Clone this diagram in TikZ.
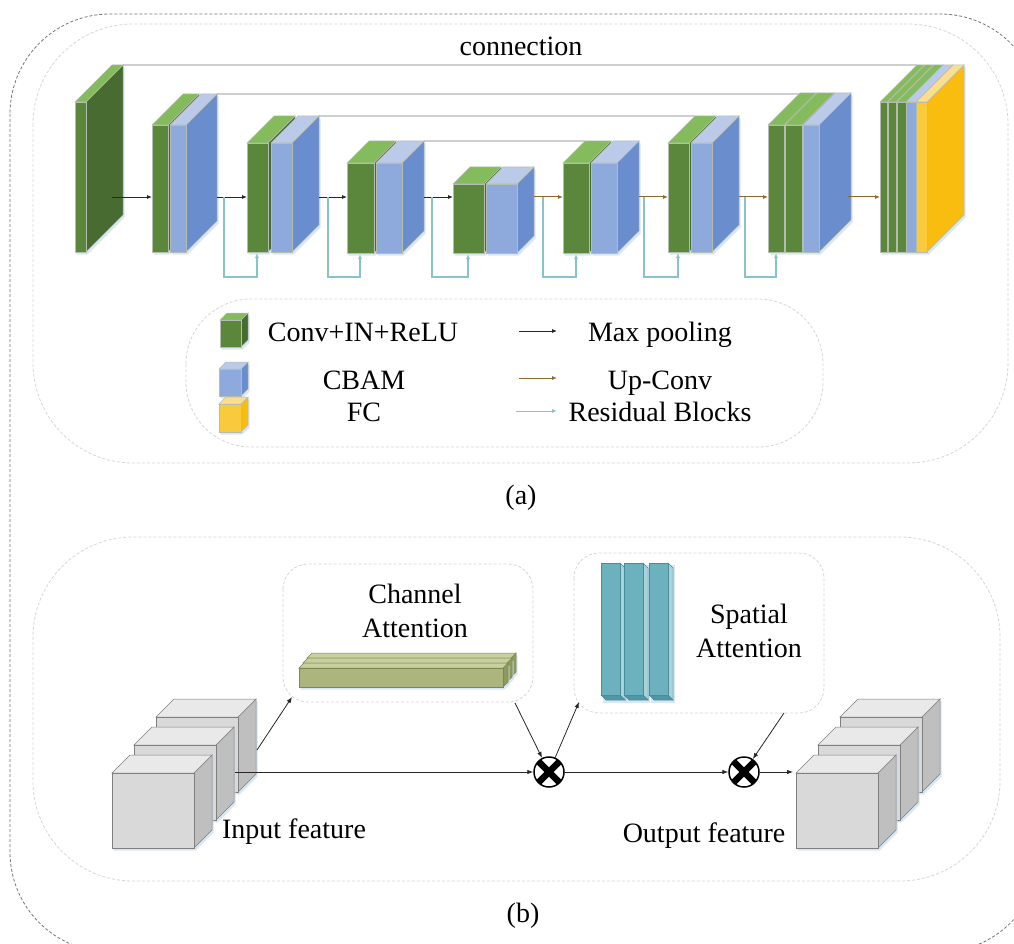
\documentclass[tikz,border=0pt]{standalone}
\usepackage{fontspec}
\setmainfont{Liberation Serif}
\usetikzlibrary{arrows.meta}
\definecolor{gfront}{HTML}{5B873C}
\definecolor{gtop}{HTML}{84BC5D}
\definecolor{gside}{HTML}{476B30}
\definecolor{bfront}{HTML}{8EA9DB}
\definecolor{btop}{HTML}{BACAE8}
\definecolor{bside}{HTML}{6A8DCD}
\definecolor{yfront}{HTML}{F9CA3C}
\definecolor{ytop}{HTML}{FCDD8E}
\definecolor{yside}{HTML}{F8BD0E}
\definecolor{brownarr}{HTML}{8C6A2A}
\definecolor{tealarr}{HTML}{88C3CD}
\definecolor{conngray}{HTML}{CFCFCF}
\definecolor{panelgray}{HTML}{D6D6D6}
\definecolor{outergray}{HTML}{767676}
\definecolor{cfront}{HTML}{D9D9D9}
\definecolor{ctop}{HTML}{E9E9E9}
\definecolor{cside}{HTML}{BFBFBF}
\definecolor{cedge}{HTML}{7F7F7F}
\definecolor{ofront}{HTML}{ADB57E}
\definecolor{otop}{HTML}{C8D0A0}
\definecolor{oside}{HTML}{8E9A5B}
\definecolor{oedge}{HTML}{7D8750}
\definecolor{tfront}{HTML}{6BB2BE}
\definecolor{tside}{HTML}{A9D3DA}
\definecolor{tbot}{HTML}{4F97A4}
\definecolor{tedge}{HTML}{4A8C97}
\definecolor{bedge}{HTML}{B5BDB0}
\definecolor{glow}{HTML}{C9DDF2}

% x1 x2 ytop ybot d front top side edge
\newcommand\myslab[9]{%
  \fill[glow,opacity=0.7] (#1+1.5,#3+2.5) -- (#1+#5+1.5,#3-#5+2.5) -- (#2+#5+1.5,#3-#5+2.5) -- (#2+#5+1.5,#4-#5+2.5) -- (#2+1.5,#4+2.5) -- (#1+1.5,#4+2.5) -- cycle;
  \filldraw[fill=#8,draw=#9,line width=0.5pt] (#2,#3) -- (#2+#5,#3-#5) -- (#2+#5,#4-#5) -- (#2,#4) -- cycle;
  \filldraw[fill=#7,draw=#9,line width=0.5pt] (#1,#3) -- (#1+#5,#3-#5) -- (#2+#5,#3-#5) -- (#2,#3) -- cycle;
  \filldraw[fill=#6,draw=#9,line width=0.5pt] (#1,#3) rectangle (#2,#4);
}
\newcommand\greenlay[5]{\myslab{#1}{#2}{#3}{#4}{#5}{gfront}{gtop}{gside}{bedge}}
\newcommand\bluelay[5]{\myslab{#1}{#2}{#3}{#4}{#5}{bfront}{btop}{bside}{bedge}}
\newcommand\yellowlay[5]{\myslab{#1}{#2}{#3}{#4}{#5}{yfront}{ytop}{yside}{bedge}}
\newcommand\greycube[2]{\myslab{#1}{#1+82}{#2}{#2+75}{18}{cfront}{ctop}{cside}{cedge}}
\newcommand\oliveslab[2]{\myslab{#1}{#1+204}{#2}{#2+19}{5}{ofront}{otop}{oside}{oedge}}
\newcommand\tealbar[1]{%
  \fill[glow,opacity=0.7] (#1+1.5,565) rectangle (#1+26,703);
  \filldraw[fill=tside,draw=tedge,line width=0.5pt] (#1+19,563) -- (#1+24,568) -- (#1+24,700) -- (#1+19,695) -- cycle;
  \filldraw[fill=tbot,draw=tedge,line width=0.5pt] (#1,695) -- (#1+19,695) -- (#1+24,700) -- (#1+5,700) -- cycle;
  \filldraw[fill=tfront,draw=tedge,line width=0.5pt] (#1,563) rectangle (#1+19,695);
}

\tikzset{
  txt/.style={font=\fontsize{28}{33}\selectfont, inner sep=0pt, anchor=base},
  pool/.style={-{Latex[length=5pt,width=4pt]}, line width=0.8pt, black!85},
  upconv/.style={-{Latex[length=5pt,width=4pt]}, line width=1pt, brownarr},
  resid/.style={-{Latex[length=5pt,width=4pt]}, line width=1.3pt, tealarr},
  conn/.style={line width=2pt, conngray},
  arr/.style={-{Latex[length=6pt,width=4.5pt]}, line width=0.8pt, black!85},
  panel/.style={draw=panelgray, line width=0.8pt, dash pattern=on 3pt off 2pt},
  otimes/.style={circle, draw=black, fill=white, line width=1.5pt, minimum size=30pt, inner sep=0pt,
    path picture={\draw[line width=6.5pt] (path picture bounding box.north west) -- (path picture bounding box.south east);
                  \draw[line width=6.5pt] (path picture bounding box.north east) -- (path picture bounding box.south west);}}
}

\begin{document}
\begin{tikzpicture}[x=1pt,y=-1pt]
\clip (0,0) rectangle (1014,944);
\fill[white] (0,0) rectangle (1014,944);

% frames
\draw[outergray, line width=0.8pt, dash pattern=on 3pt off 2pt, rounded corners=100pt] (10,14) rectangle (1040,952);
\draw[panel, rounded corners=100pt] (33,24) rectangle (1008,463);
\draw[panel, rounded corners=100pt] (33,537) rectangle (1000,881);
\draw[panel, rounded corners=65pt] (186,299) rectangle (823,447);

% skip connections
\coordinate (c1a) at (123,65);  \coordinate (c1b) at (917,65);
\coordinate (c2a) at (217,94);  \coordinate (c2b) at (800,94);
\coordinate (c3a) at (319,116); \coordinate (c3b) at (695,116);
\coordinate (c4a) at (424,141); \coordinate (c4b) at (585,141);
\draw[conn] (c1a) -- (c1b);
\draw[conn] (c2a) -- (c2b);
\draw[conn] (c3a) -- (c3b);
\draw[conn] (c4a) -- (c4b);
\node[txt] (conntext) at (521,56) {connection};

% blocks
\greenlay{75}{86}{102}{252}{37}
\greenlay{152}{168}{125}{252}{31}\bluelay{170}{186}{125}{252}{31}
\greenlay{247}{268}{143}{252}{27}\bluelay{271}{292}{143}{252}{27}
\greenlay{347}{374}{163}{253}{22}\bluelay{376}{402}{163}{253}{22}
\greenlay{453}{484}{184}{253}{17}\bluelay{486}{517}{184}{253}{17}
\greenlay{563}{589}{163}{253}{22}\bluelay{591}{617}{163}{253}{22}
\greenlay{668}{689}{143}{252}{27}\bluelay{691}{712}{143}{252}{27}
\greenlay{768}{784}{125}{252}{32}\greenlay{785}{802}{125}{252}{32}\bluelay{803}{819}{125}{252}{32}
\greenlay{880}{887}{102}{252}{37}\greenlay{888}{896}{102}{252}{37}\greenlay{897}{906}{102}{252}{37}\bluelay{906}{916}{102}{252}{37}\yellowlay{916}{927}{102}{252}{37}

% horizontal arrows
\coordinate (h1a) at (112,197); \coordinate (h1b) at (152,197);
\coordinate (h2a) at (217,197); \coordinate (h2b) at (247,197);
\coordinate (h3a) at (319,197); \coordinate (h3b) at (347,197);
\coordinate (h4a) at (424,197); \coordinate (h4b) at (453,197);
\coordinate (h5a) at (534,197); \coordinate (h5b) at (563,197);
\coordinate (h6a) at (639,197); \coordinate (h6b) at (668,197);
\coordinate (h7a) at (739,197); \coordinate (h7b) at (768,197);
\coordinate (h8a) at (848,197); \coordinate (h8b) at (880,197);
\draw[pool] (h1a) -- (h1b);
\draw[pool] (h2a) -- (h2b);
\draw[pool] (h3a) -- (h3b);
\draw[pool] (h4a) -- (h4b);
\draw[upconv] (h5a) -- (h5b);
\draw[upconv] (h6a) -- (h6b);
\draw[upconv] (h7a) -- (h7b);
\draw[upconv] (h8a) -- (h8b);

% residual arrows
\coordinate (r1a) at (224,197); \coordinate (r1b) at (257,253);
\coordinate (r2a) at (328,197); \coordinate (r2b) at (360,254);
\coordinate (r3a) at (432,197); \coordinate (r3b) at (468,254);
\coordinate (r4a) at (543,197); \coordinate (r4b) at (576,254);
\coordinate (r5a) at (644,197); \coordinate (r5b) at (678,253);
\coordinate (r6a) at (745,197); \coordinate (r6b) at (776,253);
\foreach \r in {r1,r2,r3,r4,r5,r6}{\draw[resid] (\r a) -- ++(0,80) -| (\r b);}

% legend
\greenlay{220}{241}{320}{347}{7}
\bluelay{219}{241}{369}{396}{7}
\yellowlay{219}{241}{404}{432}{7}
\node[txt] (lt1) at (363,341) {Conv+IN+ReLU};
\node[txt] (lt2) at (364,389) {CBAM};
\node[txt] (lt3) at (364,421) {FC};
\coordinate (la1) at (519,331); \coordinate (lb1) at (557,331);
\coordinate (la2) at (519,378); \coordinate (lb2) at (557,378);
\coordinate (la3) at (516,411); \coordinate (lb3) at (557,411);
\draw[pool] (la1) -- (lb1);
\draw[upconv] (la2) -- (lb2);
\draw[resid, line width=1pt] (la3) -- (lb3);
\node[txt] (lt4) at (660,341) {Max pooling};
\node[txt] (lt5) at (660,389) {Up-Conv};
\node[txt] (lt6) at (660,421) {Residual Blocks};

\node[txt] (capa) at (521,504) {(a)};

% ---------- panel b ----------
\draw[panel, rounded corners=25pt] (283,564) rectangle (533,702);
\draw[panel, rounded corners=25pt] (574,553) rectangle (824,713);
\oliveslab{307}{658}
\oliveslab{303}{663}
\oliveslab{299}{668}
\node[txt] (cht1) at (415,603) {Channel};
\node[txt] (cht2) at (415,637) {Attention};
\tealbar{601}
\tealbar{624}
\tealbar{649}
\node[txt] (spt1) at (749,623) {Spatial};
\node[txt] (spt2) at (749,657) {Attention};

\greycube{156}{717}
\greycube{134}{745}
\greycube{112}{773}
\greycube{840}{717}
\greycube{818}{745}
\greycube{796}{773}
\node[txt] (inf) at (294,838) {Input feature};
\node[txt] (outf) at (704,842) {Output feature};

\node[otimes] (m1) at (549,772) {};
\node[otimes] (m2) at (744,772) {};

\coordinate (inA) at (257,750); \coordinate (caIn) at (292,697);
\coordinate (inB) at (235,772);
\coordinate (caOut) at (515,703);
\coordinate (saIn) at (579,702);
\coordinate (saOut) at (784,713);
\coordinate (outA) at (793,772);
\draw[arr] (inA) -- (caIn);
\draw[arr] (inB) -- (m1);
\draw[arr] (caOut) -- (m1);
\draw[arr] (m1) -- (saIn);
\draw[arr] (m1) -- (m2);
\draw[arr] (saOut) -- (m2);
\draw[arr] (m2) -- (outA);

\node[txt] (capb) at (523,922) {(b)};
\end{tikzpicture}
\end{document}
